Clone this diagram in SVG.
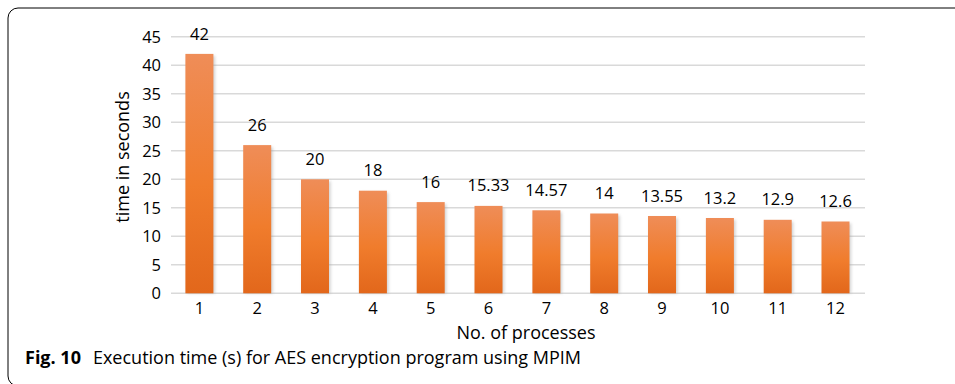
<svg xmlns="http://www.w3.org/2000/svg" width="955" height="384" viewBox="0 0 955 384">
<defs>
<linearGradient id="barg" x1="0" y1="0" x2="0" y2="1">
<stop offset="0" stop-color="#EF8D58"/>
<stop offset="0.55" stop-color="#F07C2C"/>
<stop offset="1" stop-color="#E2671B"/>
</linearGradient>
<filter id="sh" x="-30%" y="-10%" width="160%" height="120%">
<feGaussianBlur stdDeviation="1.5"/>
</filter>
</defs>
<style>
.grid{stroke:#D9D9D9;stroke-width:1.5;fill:none}
.bar{fill:url(#barg)}
.shadow{fill:#9a9a9a;opacity:0.45;filter:url(#sh)}
.tick{font-family:"Open Sans","Liberation Sans",sans-serif;font-size:16.5px;fill:#000}
.val{font-family:"Open Sans","Liberation Sans",sans-serif;font-size:16.5px;fill:#000;text-anchor:middle}
.ax{font-family:"Open Sans","Liberation Sans",sans-serif;font-size:18px;fill:#000;text-anchor:middle}
.cap{font-family:"Open Sans","Noto Sans",sans-serif;font-size:18px;fill:#000}
</style>
<rect width="955" height="384" fill="#fff"/>
<rect x="8" y="8" width="980" height="378" rx="10" ry="10" fill="none" stroke="#000" stroke-width="1"/>
<g id="gridlines">
<line class="grid" x1="171" y1="36.8" x2="865" y2="36.8"/>
<line class="grid" x1="171" y1="65.3" x2="865" y2="65.3"/>
<line class="grid" x1="171" y1="93.8" x2="865" y2="93.8"/>
<line class="grid" x1="171" y1="122.3" x2="865" y2="122.3"/>
<line class="grid" x1="171" y1="150.8" x2="865" y2="150.8"/>
<line class="grid" x1="171" y1="179.3" x2="865" y2="179.3"/>
<line class="grid" x1="171" y1="207.8" x2="865" y2="207.8"/>
<line class="grid" x1="171" y1="236.3" x2="865" y2="236.3"/>
<line class="grid" x1="171" y1="264.8" x2="865" y2="264.8"/>
<line class="grid" x1="171" y1="293.3" x2="865" y2="293.3"/>
</g>
<g id="yaxis" class="tick" text-anchor="end">
<text x="161" y="42.6">45</text>
<text x="161" y="71.1">40</text>
<text x="161" y="99.6">35</text>
<text x="161" y="128.1">30</text>
<text x="161" y="156.6">25</text>
<text x="161" y="185.1">20</text>
<text x="161" y="213.6">15</text>
<text x="161" y="242.1">10</text>
<text x="161" y="270.6">5</text>
<text x="161" y="299.1">0</text>
</g>
<g id="bars">
<g id="bar1"><rect class="shadow" x="187" y="55.9" width="28" height="237.4"/><rect class="bar" x="185.4" y="53.9" width="28" height="239.4"/><text class="val" x="199.4" y="39.5">42</text><text class="val" x="199.4" y="314">1</text></g>
<g id="bar2"><rect class="shadow" x="244.8" y="147.1" width="28" height="146.2"/><rect class="bar" x="243.2" y="145.1" width="28" height="148.2"/><text class="val" x="257.2" y="130.6">26</text><text class="val" x="257.2" y="314">2</text></g>
<g id="bar3"><rect class="shadow" x="302.6" y="181.3" width="28" height="112"/><rect class="bar" x="301" y="179.3" width="28" height="114"/><text class="val" x="315" y="164.8">20</text><text class="val" x="315" y="314">3</text></g>
<g id="bar4"><rect class="shadow" x="360.5" y="192.7" width="28" height="100.6"/><rect class="bar" x="358.9" y="190.7" width="28" height="102.6"/><text class="val" x="372.9" y="176.2">18</text><text class="val" x="372.9" y="314">4</text></g>
<g id="bar5"><rect class="shadow" x="418.3" y="204.1" width="28" height="89.2"/><rect class="bar" x="416.7" y="202.1" width="28" height="91.2"/><text class="val" x="430.7" y="187.6">16</text><text class="val" x="430.7" y="314">5</text></g>
<g id="bar6"><rect class="shadow" x="476.1" y="207.9" width="28" height="85.4"/><rect class="bar" x="474.5" y="205.9" width="28" height="87.4"/><text class="val" x="488.5" y="191.4">15.33</text><text class="val" x="488.5" y="314">6</text></g>
<g id="bar7"><rect class="shadow" x="534" y="212.3" width="28" height="81"/><rect class="bar" x="532.4" y="210.3" width="28" height="83"/><text class="val" x="546.4" y="195.8">14.57</text><text class="val" x="546.4" y="314">7</text></g>
<g id="bar8"><rect class="shadow" x="591.8" y="215.5" width="28" height="77.8"/><rect class="bar" x="590.2" y="213.5" width="28" height="79.8"/><text class="val" x="604.2" y="199">14</text><text class="val" x="604.2" y="314">8</text></g>
<g id="bar9"><rect class="shadow" x="649.6" y="218" width="28" height="75.3"/><rect class="bar" x="648" y="216" width="28" height="77.3"/><text class="val" x="662" y="201.5">13.55</text><text class="val" x="662" y="314">9</text></g>
<g id="bar10"><rect class="shadow" x="707.5" y="220" width="28" height="73.3"/><rect class="bar" x="705.9" y="218" width="28" height="75.3"/><text class="val" x="719.9" y="203.5">13.2</text><text class="val" x="719.9" y="314">10</text></g>
<g id="bar11"><rect class="shadow" x="765.3" y="221.8" width="28" height="71.5"/><rect class="bar" x="763.7" y="219.8" width="28" height="73.5"/><text class="val" x="777.7" y="205.3">12.9</text><text class="val" x="777.7" y="314">11</text></g>
<g id="bar12"><rect class="shadow" x="823.1" y="223.5" width="28" height="69.8"/><rect class="bar" x="821.5" y="221.5" width="28" height="71.8"/><text class="val" x="835.5" y="207">12.6</text><text class="val" x="835.5" y="314">12</text></g>
</g>
<g id="axis-titles">
<text class="ax" x="0" y="0" transform="translate(129,157) rotate(-90)">time in seconds</text>
<text class="ax" x="526" y="339">No. of processes</text>
</g>
<g id="caption">
<text class="cap" x="25" y="364"><tspan font-weight="bold">Fig. 10</tspan><tspan dx="12">Execution time (s) for AES encryption program using MPIM</tspan></text>
</g>
</svg>
